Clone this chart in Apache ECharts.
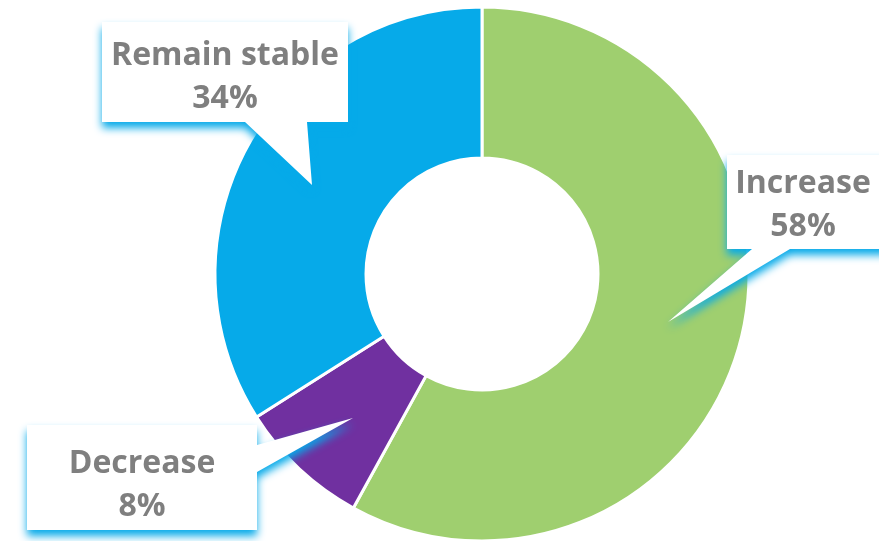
<!DOCTYPE html>
<html>
<head>
<meta charset="utf-8">
<script src="https://cdn.jsdelivr.net/npm/echarts@6/dist/echarts.min.js"></script>
<style>
  html, body { margin: 0; padding: 0; background: #ffffff; }
  #chart { width: 879px; height: 541px; }
</style>
</head>
<body>
<div id="chart"></div>
<script>
// Expected change in outlook, share of respondents
const categories = ['Increase', 'Decrease', 'Remain stable'];
const shares = [58, 8, 34];
const sliceColors = ['#9fcf6f', '#7030a0', '#06aae9'];

const chart = echarts.init(document.getElementById('chart'), null, { renderer: 'canvas' });

const textColor = '#7f7f7f';
const shadowColor = '#06aae9';

// Callout bubbles: box plus a pointer toward its slice
const callouts = [
  { idx: 2, points: [[102, 22], [348, 22], [348, 122], [307, 122], [312, 185], [245, 122], [102, 122]], tx: 225, ty: 77 },
  { idx: 0, points: [[727, 155], [900, 155], [900, 249], [790, 249], [668, 322], [752, 249], [727, 249]], tx: 803, ty: 205 },
  { idx: 1, points: [[27, 425], [257, 425], [257, 445], [353, 418], [257, 472], [257, 530], [27, 530]], tx: 142, ty: 485 }
];

const graphics = [];
callouts.forEach(c => {
  graphics.push({
    type: 'polygon',
    z: 10,
    shape: { points: c.points },
    style: {
      fill: '#ffffff',
      shadowColor: shadowColor,
      shadowBlur: 8,
      shadowOffsetX: 0,
      shadowOffsetY: 6
    }
  });
  graphics.push({
    type: 'text',
    z: 11,
    x: c.tx,
    y: c.ty,
    style: {
      text: categories[c.idx] + '\n' + shares[c.idx] + '%',
      fill: textColor,
      fontFamily: '"Open Sans", sans-serif',
      fontWeight: 'bold',
      fontSize: 32,
      lineHeight: 43,
      align: 'center',
      verticalAlign: 'middle'
    }
  });
});

chart.setOption({
  animation: false,
  backgroundColor: '#ffffff',
  series: [{
    type: 'pie',
    center: [482, 274],
    radius: [116, 267],
    startAngle: 90,
    clockwise: true,
    label: { show: false },
    labelLine: { show: false },
    emphasis: { disabled: true },
    itemStyle: { borderColor: '#ffffff', borderWidth: 3 },
    data: categories.map((name, i) => ({
      name: name,
      value: shares[i],
      itemStyle: { color: sliceColors[i] }
    }))
  }],
  graphic: graphics
});
</script>
</body>
</html>
